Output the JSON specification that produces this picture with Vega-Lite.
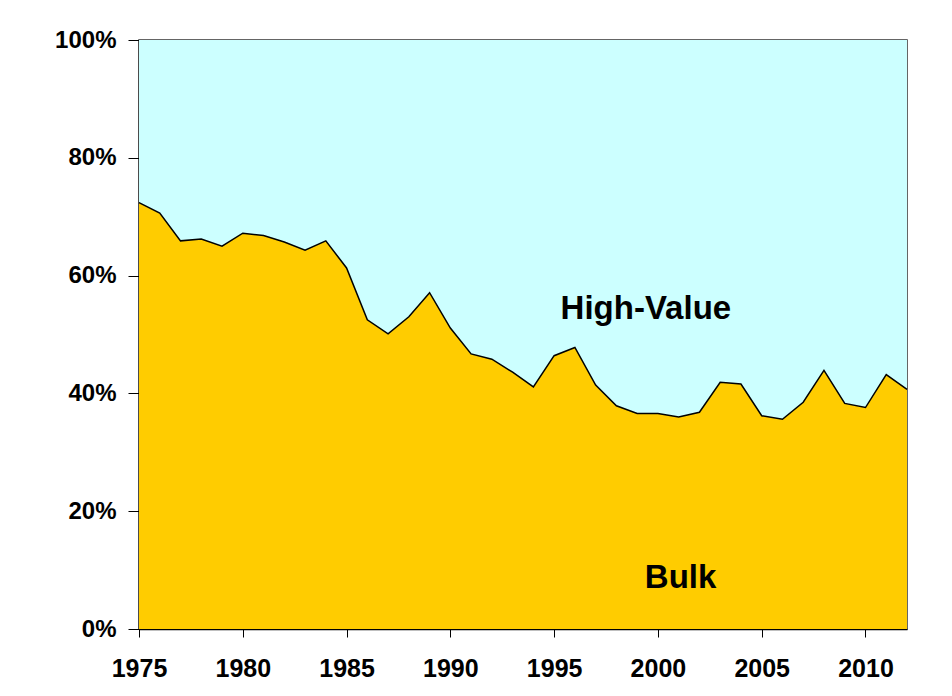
{
  "$schema": "https://vega.github.io/schema/vega-lite/v6.json",
  "width": 768,
  "height": 589,
  "autosize": {"type": "none"},
  "padding": {"left": 139, "top": 40, "right": 45, "bottom": 67},
  "background": "white",
  "config": {
    "view": {"stroke": "#333333", "strokeWidth": 1.5, "fill": "#CCFFFF"},
    "font": "Liberation Sans",
    "axis": {
      "grid": false,
      "domainColor": "#000000",
      "domainWidth": 1.5,
      "tickColor": "#000000",
      "tickWidth": 1,
      "labelFont": "Liberation Sans",
      "labelFontWeight": "bold",
      "labelColor": "#000000",
      "title": null
    }
  },
  "datasets": {
    "shares": [
      {"year": 1975, "Bulk": 72.4, "High-Value": 27.6},
      {"year": 1976, "Bulk": 70.6, "High-Value": 29.4},
      {"year": 1977, "Bulk": 65.9, "High-Value": 34.1},
      {"year": 1978, "Bulk": 66.2, "High-Value": 33.8},
      {"year": 1979, "Bulk": 65.0, "High-Value": 35.0},
      {"year": 1980, "Bulk": 67.2, "High-Value": 32.8},
      {"year": 1981, "Bulk": 66.8, "High-Value": 33.2},
      {"year": 1982, "Bulk": 65.7, "High-Value": 34.3},
      {"year": 1983, "Bulk": 64.3, "High-Value": 35.7},
      {"year": 1984, "Bulk": 65.9, "High-Value": 34.1},
      {"year": 1985, "Bulk": 61.3, "High-Value": 38.7},
      {"year": 1986, "Bulk": 52.5, "High-Value": 47.5},
      {"year": 1987, "Bulk": 50.1, "High-Value": 49.9},
      {"year": 1988, "Bulk": 53.0, "High-Value": 47.0},
      {"year": 1989, "Bulk": 57.1, "High-Value": 42.9},
      {"year": 1990, "Bulk": 51.1, "High-Value": 48.9},
      {"year": 1991, "Bulk": 46.7, "High-Value": 53.3},
      {"year": 1992, "Bulk": 45.8, "High-Value": 54.2},
      {"year": 1993, "Bulk": 43.6, "High-Value": 56.4},
      {"year": 1994, "Bulk": 41.1, "High-Value": 58.9},
      {"year": 1995, "Bulk": 46.4, "High-Value": 53.6},
      {"year": 1996, "Bulk": 47.8, "High-Value": 52.2},
      {"year": 1997, "Bulk": 41.4, "High-Value": 58.6},
      {"year": 1998, "Bulk": 37.9, "High-Value": 62.1},
      {"year": 1999, "Bulk": 36.6, "High-Value": 63.4},
      {"year": 2000, "Bulk": 36.6, "High-Value": 63.4},
      {"year": 2001, "Bulk": 36.0, "High-Value": 64.0},
      {"year": 2002, "Bulk": 36.8, "High-Value": 63.2},
      {"year": 2003, "Bulk": 41.9, "High-Value": 58.1},
      {"year": 2004, "Bulk": 41.6, "High-Value": 58.4},
      {"year": 2005, "Bulk": 36.2, "High-Value": 63.8},
      {"year": 2006, "Bulk": 35.6, "High-Value": 64.4},
      {"year": 2007, "Bulk": 38.5, "High-Value": 61.5},
      {"year": 2008, "Bulk": 43.9, "High-Value": 56.1},
      {"year": 2009, "Bulk": 38.3, "High-Value": 61.7},
      {"year": 2010, "Bulk": 37.6, "High-Value": 62.4},
      {"year": 2011, "Bulk": 43.2, "High-Value": 56.8},
      {"year": 2012, "Bulk": 40.7, "High-Value": 59.3}
    ],
    "labels": [
      {"year": 1999.42, "share": 52.6, "label": "High-Value"},
      {"year": 2001.09, "share": 6.9, "label": "Bulk"}
    ]
  },
  "layer": [
    {
      "data": {"name": "shares"},
      "transform": [{"fold": ["Bulk", "High-Value"], "as": ["category", "share"]}],
      "mark": {"type": "area", "stroke": null},
      "encoding": {
        "x": {
          "field": "year", "type": "quantitative",
          "scale": {"domain": [1975, 2012], "nice": false, "zero": false},
          "axis": {
            "values": [1975, 1980, 1985, 1990, 1995, 2000, 2005, 2010],
            "format": "d",
            "labelFontSize": 25,
            "tickSize": 8,
            "labelPadding": 19,
            "labelFlush": false
          }
        },
        "y": {
          "field": "share", "type": "quantitative", "stack": "zero",
          "scale": {"domain": [0, 100], "nice": false},
          "axis": {
            "values": [0, 20, 40, 60, 80, 100],
            "labelExpr": "datum.value + '%'",
            "labelFontSize": 24,
            "tickSize": 11,
            "labelPadding": 12
          }
        },
        "color": {
          "field": "category", "type": "nominal",
          "scale": {"domain": ["Bulk", "High-Value"], "range": ["#FFCC00", "#CCFFFF"]},
          "legend": null
        },
        "order": {"field": "category", "sort": "ascending"}
      }
    },
    {
      "data": {"name": "shares"},
      "mark": {"type": "line", "color": "#000000", "strokeWidth": 1.5},
      "encoding": {
        "x": {"field": "year", "type": "quantitative"},
        "y": {"field": "Bulk", "type": "quantitative"}
      }
    },
    {
      "data": {"name": "labels"},
      "mark": {"type": "text", "font": "Liberation Sans", "fontWeight": "bold", "fontSize": 33, "align": "center", "baseline": "alphabetic", "color": "#000000"},
      "encoding": {
        "x": {"field": "year", "type": "quantitative"},
        "y": {"field": "share", "type": "quantitative"},
        "text": {"field": "label", "type": "nominal"}
      }
    }
  ]
}
